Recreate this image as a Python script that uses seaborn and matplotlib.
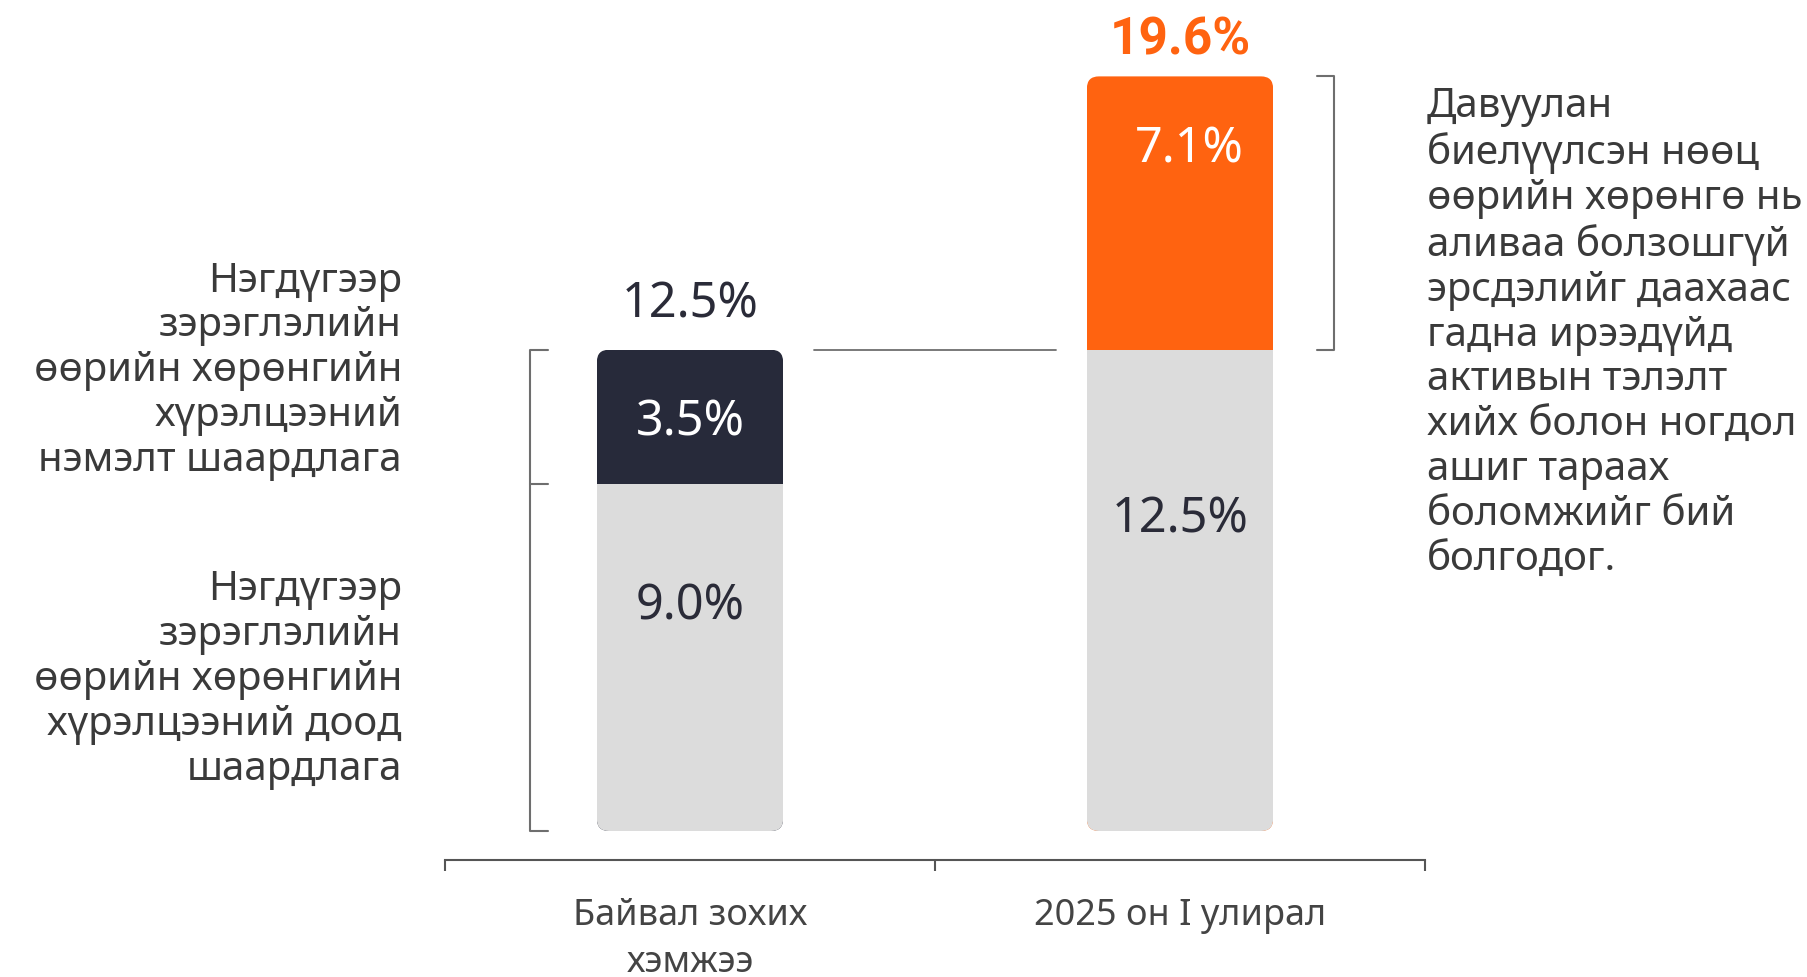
import numpy as np
import matplotlib
matplotlib.use("Agg")
import matplotlib.pyplot as plt
from matplotlib.patches import FancyBboxPatch
import seaborn as sns

# ---- data ----
categories = ["Байвал зохих\nхэмжээ", "2025 он I улирал"]
base_values = [9.0, 12.5]
top_values = [3.5, 7.1]
top_colors = ["#272a3a", "#ff6310"]
base_color = "#dcdcdc"
left_note_top = "Нэгдүгээр\nзэрэглэлийн\nөөрийн хөрөнгийн\nхүрэлцээний\nнэмэлт шаардлага"
left_note_bottom = "Нэгдүгээр\nзэрэглэлийн\nөөрийн хөрөнгийн\nхүрэлцээний доод\nшаардлага"
right_note = ("Давуулан\nбиелүүлсэн нөөц\nөөрийн хөрөнгө нь\nаливаа болзошгүй\n"
              "эрсдэлийг даахаас\nгадна ирээдүйд\nактивын тэлэлт\nхийх болон ногдол\n"
              "ашиг тараах\nболомжийг бий\nболгодог.")

totals = [b + t for b, t in zip(base_values, top_values)]

sns.set_theme(style="white")
plt.rcParams["font.family"] = ["Noto Sans", "DejaVu Sans"]

fig = plt.figure(figsize=(18.07, 9.78), dpi=100)
fig.patch.set_facecolor("white")
ax = fig.add_axes([445 / 1807, 1 - 861 / 978, 980 / 1807, 861 / 978])
ax.set_facecolor("none")

bar_w = 0.38
# totals (top layer colour), then base over it
sns.barplot(x=categories, y=totals, hue=categories, palette=top_colors,
            width=bar_w, legend=False, ax=ax, saturation=1, linewidth=0)
sns.barplot(x=categories, y=base_values, color=base_color, width=bar_w,
            ax=ax, saturation=1, linewidth=0)

ax.set_xlim(-0.5, 1.5)
ax.set_ylim(-0.753, 21.61)

# rounded outline clip for each stacked bar
rx = 12 / 490
ry = 12 / 38.5
for i, tot in enumerate(totals):
    clip = FancyBboxPatch((i - bar_w / 2, 0), bar_w, tot,
                          boxstyle=f"round,pad=0,rounding_size={rx}",
                          mutation_aspect=ry / rx, transform=ax.transData)
    for p in ax.patches:
        cx = p.get_x() + p.get_width() / 2
        if abs(cx - i) < 0.01:
            p.set_clip_path(clip)

# value labels
for i, (b, t, tot) in enumerate(zip(base_values, top_values, totals)):
    ax.text(i, b * 0.65, f"{b:.1f}%", ha="center", va="center",
            fontsize=35, color="#2a2b38")
    ax.text(i + (0.02 if i == 1 else 0), tot - 1.87, f"{t:.1f}%", ha="center", va="center",
            fontsize=35, color="white")
ax.text(0, totals[0] + 1.19, f"{totals[0]:.1f}%", ha="center", va="center",
        fontsize=35, color="#2a2b38")
ax.text(1, totals[1] + 0.95, f"{totals[1]:.1f}%", ha="center", va="center",
        fontsize=37, color=top_colors[1], fontweight="bold",
        family=["Roboto", "DejaVu Sans"])

# connector line between bars
line_c = "#6e6e6e"
ax.plot([0.253, 0.747], [totals[0], totals[0]], color=line_c, lw=1.3,
        clip_on=False)

# left bracket
bx = -0.327
bt = -0.29
ax.plot([bt, bx, bx, bt], [totals[0], totals[0], 0, 0], color=line_c, lw=1.5,
        clip_on=False)
ax.plot([bx, bt], [base_values[0], base_values[0]], color=line_c, lw=1.5,
        clip_on=False)
# right bracket
rbx = 1.314
rbt = 1.28
ax.plot([rbt, rbx, rbx, rbt], [totals[1], totals[1], base_values[1], base_values[1]],
        color=line_c, lw=1.5, clip_on=False)

# notes
txt_c = "#3a3a3a"
note_fs = 29
note_ls = 1.16
ax.text(-0.588, 11.97, left_note_top, ha="right", va="center", fontsize=note_fs,
        color=txt_c, linespacing=note_ls, clip_on=False)
ax.text(-0.588, 3.95, left_note_bottom, ha="right", va="center", fontsize=note_fs,
        color=txt_c, linespacing=note_ls, clip_on=False)
ax.text(1.504, 12.95, right_note, ha="left", va="center", fontsize=note_fs,
        color=txt_c, linespacing=note_ls, clip_on=False)

# axis styling
for s in ["left", "top", "right"]:
    ax.spines[s].set_visible(False)
ax.spines["bottom"].set_color("#555555")
ax.spines["bottom"].set_linewidth(1.5)
ax.set_yticks([])
ax.set_xticks([-0.5, 0.5, 1.5])
ax.set_xticklabels([])
ax.tick_params(axis="x", which="major", direction="out", length=8, width=1.5,
               color="#555555", bottom=True)
ax.set_xticks([0, 1], minor=True)
ax.set_xticklabels(categories, minor=True, fontsize=26, color="#444444",
                   linespacing=1.38)
ax.tick_params(axis="x", which="minor", length=0, pad=27, bottom=True)
ax.set_xlabel("")
ax.set_ylabel("")
ax.grid(False)

fig.savefig("out.png", dpi=100, facecolor="white")
